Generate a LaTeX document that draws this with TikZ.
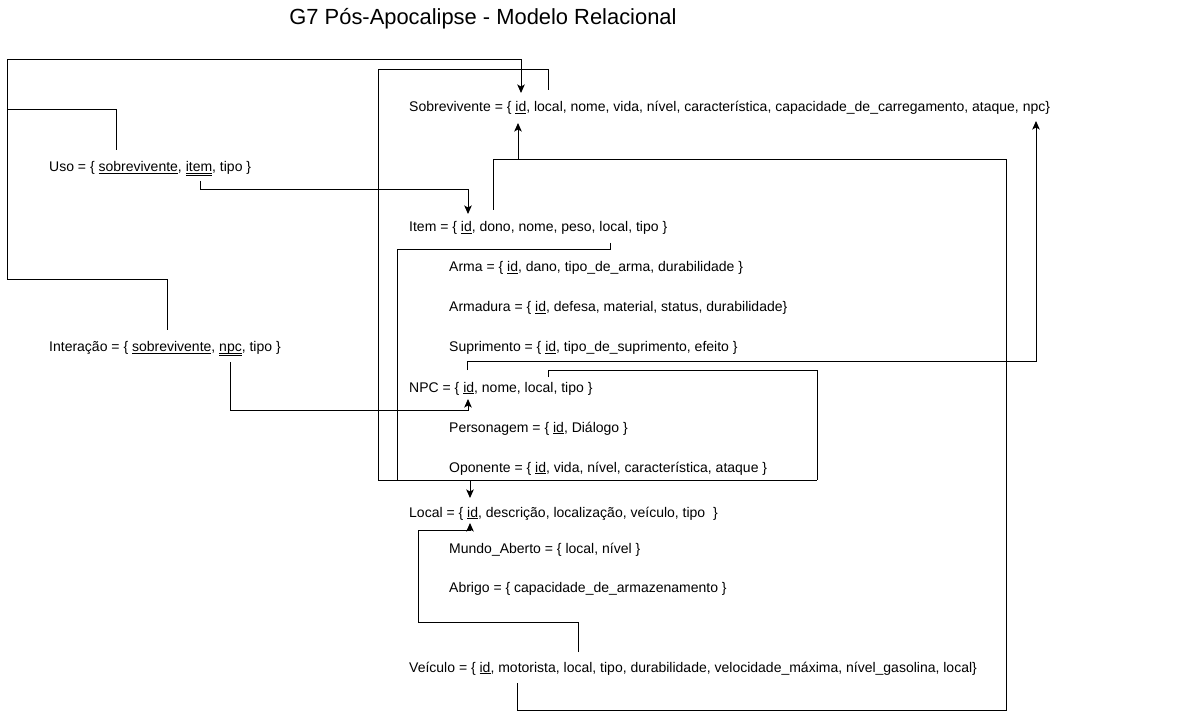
\documentclass[tikz,border=0pt]{standalone}
\usepackage{fontspec}
\setmainfont{Liberation Sans}
\usetikzlibrary{arrows.meta}
\newcommand{\ulx}[1]{\underline{\smash{#1}}}
\newcommand{\uulx}[1]{\underline{\underline{\smash{#1}}}}
\begin{document}
\begin{tikzpicture}[x=1pt,y=-1pt,
  rel/.style={anchor=base west,inner sep=0pt,font=\fontsize{14}{16}\selectfont},
  wire/.style={line width=1pt,draw=black},
  arr/.style={wire,-{Stealth[length=8.5pt,width=7.5pt,inset=2pt]}}]
\useasboundingbox[fill=white] (0,0) rectangle (1178,719);
% title
\node[font=\fontsize{21.9}{26}\selectfont,inner sep=0pt] (title) at (483,19) {G7 Pós-Apocalipse - Modelo Relacional};
% relations
\node[rel] (sobr) at (409,112) {Sobrevivente = \{ \ulx{id}, local, nome, vida, nível, característica, capacidade\_de\_carregamento, ataque, npc\}};
\node[rel] (uso) at (49,172) {Uso = \{ \ulx{sobrevivente}, \uulx{item}, tipo \}};
\node[rel] (item) at (409,232) {Item = \{ \ulx{id}, dono, nome, peso, local, tipo \}};
\node[rel] (arma) at (449,272) {Arma = \{ \ulx{id}, dano, tipo\_de\_arma, durabilidade \}};
\node[rel] (armadura) at (449,312) {Armadura = \{ \ulx{id}, defesa, material, status, durabilidade\}};
\node[rel] (supr) at (449,352) {Suprimento = \{ \ulx{id}, tipo\_de\_suprimento, efeito \}};
\node[rel] (inter) at (49,352) {Interação = \{ \ulx{sobrevivente}, \uulx{npc}, tipo \}};
\node[rel] (npc) at (409,392) {NPC = \{ \ulx{id}, nome, local, tipo \}};
\node[rel] (pers) at (449,432) {Personagem = \{ \ulx{id}, Diálogo \}};
\node[rel] (opon) at (449,472) {Oponente = \{ \ulx{id}, vida, nível, característica, ataque \}};
\node[rel] (local) at (409,517) {Local = \{ \ulx{id}, descrição, localização, veículo, tipo~ \}};
\node[rel] (mundo) at (449,553) {Mundo\_Aberto = \{ local, nível \}};
\node[rel] (abrigo) at (449,592) {Abrigo = \{ capacidade\_de\_armazenamento \}};
\node[rel] (veic) at (409,672) {Veículo = \{ \ulx{id}, motorista, local, tipo, durabilidade, velocidade\_máxima, nível\_gasolina, local\}};
% attribute anchor points
\coordinate (s-id-top) at (521,93);
\coordinate (s-id-bot) at (518,123);
\coordinate (s-local) at (548,90);
\coordinate (s-npc) at (1036,121);
\coordinate (u-sob) at (116,150);
\coordinate (u-item) at (200,181);
\coordinate (i-id) at (468,214);
\coordinate (i-dono) at (493,210);
\coordinate (i-local) at (610,243);
\coordinate (in-sob) at (167,330);
\coordinate (in-npc) at (230,362);
\coordinate (n-id-bot) at (468,399);
\coordinate (n-id-top) at (467,370);
\coordinate (n-local) at (548,377);
\coordinate (l-id-top) at (470,498);
\coordinate (l-id-bot) at (470,523);
\coordinate (v-local) at (578,652);
\coordinate (v-mot) at (517,683);
\coordinate (j-sob) at (518,160);
\coordinate (j-loc) at (470,480);
% connectors
\draw[arr] (in-sob) -- (167,280) -| (7,60) -| (s-id-top);
\draw[wire] (u-sob) |- (7,110);
\draw[arr] (u-item) -- (200,190) -| (i-id);
\draw[wire] (v-mot) |- (1006,710) |- (493,160) -- (i-dono);
\draw[arr] (j-sob) -- (s-id-bot);
\draw[wire] (s-local) |- (378,70) |- (817,480);
\draw[wire] (n-local) |- (817,370) -- (817,480);
\draw[wire] (i-local) |- (397,250) -- (397,480);
\draw[arr] (j-loc) -- (l-id-top);
\draw[arr] (in-npc) -- (230,410) -| (n-id-bot);
\draw[arr] (n-id-top) -- (467,361) -| (s-npc);
\draw[arr] (v-local) |- (418,622) |- (470,530) -- (l-id-bot);
\end{tikzpicture}
\end{document}
